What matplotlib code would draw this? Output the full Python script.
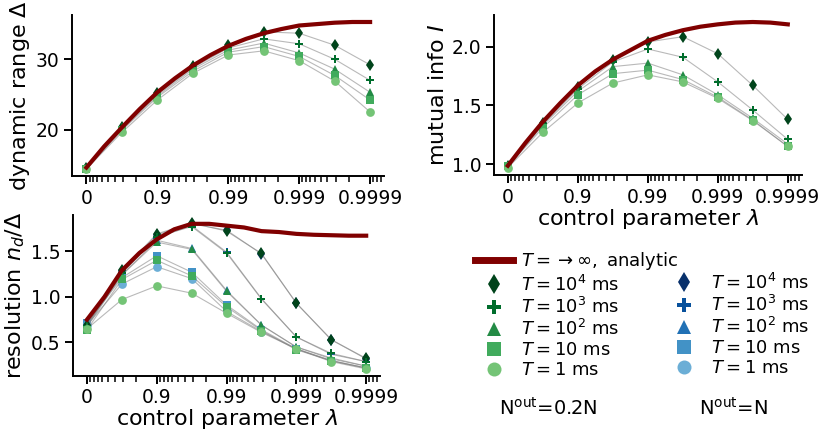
import numpy as np
import matplotlib
matplotlib.use("Agg")
import matplotlib.pyplot as plt
from matplotlib.lines import Line2D
from matplotlib.ticker import LogLocator, NullFormatter

# x positions are decades of 1 - lambda (0 -> lambda=0, 4 -> lambda=0.9999)
decades = [0, 0.5, 1, 1.5, 2, 2.5, 3, 3.5, 4]
decades_fine = [0, 0.25, 0.5, 0.75, 1, 1.25, 1.5, 1.75, 2, 2.25, 2.5, 2.75, 3, 3.25, 3.5, 3.75, 4]

T_labels = [r"$T=10^4$ ms", r"$T=10^3$ ms", r"$T=10^2$ ms", r"$T=10$ ms", r"$T=1$ ms"]
xtick_labels = ["0", "0.9", "0.99", "0.999", "0.9999"]

# dynamic range, N_out = 0.2N
dr_analytic = [14.6, 17.6, 20.3, 22.9, 25.3, 27.3, 29.1, 30.6, 31.9, 32.9, 33.7, 34.3, 34.8, 35.0, 35.2, 35.3, 35.3]
dr_green = [
    [14.6, 20.4, 25.2, 29.0, 32.0, 33.9, 33.7, 32.0, 29.2],
    [14.5, 20.3, 25.0, 28.8, 31.6, 32.9, 32.2, 30.0, 27.0],
    [14.5, 20.1, 24.8, 28.6, 31.3, 32.3, 30.9, 28.6, 25.3],
    [14.4, 19.9, 24.6, 28.3, 31.0, 31.8, 30.4, 27.7, 24.2],
    [14.4, 19.6, 24.2, 28.0, 30.6, 31.2, 29.8, 26.9, 22.5],
]

# mutual information
mi_analytic = [0.986, 1.18, 1.36, 1.52, 1.67, 1.79, 1.89, 1.97, 2.05, 2.10, 2.14, 2.17, 2.19, 2.205, 2.21, 2.205, 2.19]
mi_green = [
    [0.98, 1.35, 1.66, 1.89, 2.04, 2.085, 1.94, 1.67, 1.38],
    [0.98, 1.34, 1.64, 1.87, 1.98, 1.91, 1.70, 1.46, 1.21],
    [0.98, 1.33, 1.62, 1.83, 1.86, 1.76, 1.59, 1.39, 1.17],
    [0.98, 1.31, 1.59, 1.77, 1.80, 1.72, 1.57, 1.375, 1.15],
    [0.97, 1.27, 1.52, 1.69, 1.76, 1.70, 1.56, 1.37, 1.15],
]

# resolution n_d / Delta
res_analytic = [0.75, 1.0, 1.29, 1.48, 1.63, 1.74, 1.80, 1.80, 1.78, 1.76, 1.72, 1.71, 1.69, 1.68, 1.675, 1.67, 1.67]
res_green = [
    [0.69, 1.29, 1.69, 1.81, 1.72, 1.475, 0.93, 0.53, 0.325],
    [0.68, 1.26, 1.66, 1.77, 1.48, 0.975, 0.56, 0.38, 0.29],
    [0.67, 1.24, 1.60, 1.52, 1.06, 0.69, 0.45, 0.33, 0.24],
    [0.64, 1.19, 1.40, 1.23, 0.89, 0.63, 0.42, 0.30, 0.22],
    [0.65, 0.97, 1.12, 1.04, 0.82, 0.61, 0.43, 0.29, 0.21],
]
res_blue = [
    [0.70, 1.28, 1.68, 1.80, 1.73, 1.47, 0.93, 0.53, 0.32],
    [0.70, 1.26, 1.65, 1.78, 1.49, 0.98, 0.56, 0.37, 0.29],
    [0.70, 1.24, 1.62, 1.53, 1.07, 0.69, 0.45, 0.32, 0.24],
    [0.71, 1.21, 1.45, 1.27, 0.91, 0.64, 0.43, 0.30, 0.22],
    [0.69, 1.14, 1.33, 1.20, 0.84, 0.62, 0.43, 0.30, 0.22],
]

markers = ["d", "P", "^", "s", "o"]
greens = ["#00441b", "#006d2c", "#238b45", "#41ab5d", "#74c476"]
blues = ["#08306b", "#08519c", "#2171b5", "#4292c6", "#6baed6"]
analytic_color = "#800000"


def one_minus_lam(d):
    return 10.0 ** (-np.asarray(d, dtype=float))


def plot_series(ax, series, colors, z):
    x = one_minus_lam(decades)
    for vals, m, c in zip(series, markers, colors):
        ax.plot(x, vals, "-", color="gray", lw=0.8, alpha=0.55, zorder=z)
        ax.plot(x, vals, m, color=c, ms=6.3, mew=0, zorder=z + 1)


def style_axis(ax, ylabel, xlabel=None):
    ax.set_xscale("log")
    ax.set_xlim(10 ** 0.2, 10 ** -4.2)
    ax.set_xticks(one_minus_lam([0, 1, 2, 3, 4]))
    ax.set_xticklabels(xtick_labels)
    ax.xaxis.set_minor_locator(LogLocator(base=10, subs=np.arange(2, 10), numticks=20))
    ax.xaxis.set_minor_formatter(NullFormatter())
    ax.spines["top"].set_visible(False)
    ax.spines["right"].set_visible(False)
    for s in ("left", "bottom"):
        ax.spines[s].set_linewidth(1.4)
    ax.tick_params(axis="both", which="major", labelsize=13.5, length=6, width=1.4, pad=3)
    ax.tick_params(axis="x", which="minor", length=4, width=1.1)
    ax.set_ylabel(ylabel, fontsize=16, labelpad=3)
    if xlabel:
        ax.set_xlabel(xlabel, fontsize=16, labelpad=0)


fig = plt.figure(figsize=(8.3, 4.4), dpi=100)

ax_dr = fig.add_axes([0.087, 0.600, 0.376, 0.366])
ax_mi = fig.add_axes([0.595, 0.602, 0.371, 0.364])
ax_res = fig.add_axes([0.088, 0.146, 0.370, 0.365])

# dynamic range
plot_series(ax_dr, dr_green, greens, 2)
ax_dr.plot(one_minus_lam(decades_fine), dr_analytic, color=analytic_color, lw=3, zorder=5)
ax_dr.set_ylim(13.4, 36.3)
ax_dr.set_yticks([20, 30])
style_axis(ax_dr, r"dynamic range $\Delta$")

# mutual info
plot_series(ax_mi, mi_green, greens, 2)
ax_mi.plot(one_minus_lam(decades_fine), mi_analytic, color=analytic_color, lw=3, zorder=5)
ax_mi.set_ylim(0.906, 2.27)
ax_mi.set_yticks([1.0, 1.5, 2.0])
style_axis(ax_mi, r"mutual info $I$", r"control parameter $\lambda$")

# resolution, blue under green
plot_series(ax_res, res_blue, blues, 1)
plot_series(ax_res, res_green, greens, 3)
ax_res.plot(one_minus_lam(decades_fine), res_analytic, color=analytic_color, lw=3, zorder=5)
ax_res.set_ylim(0.135, 1.895)
ax_res.set_yticks([0.5, 1.0, 1.5])
style_axis(ax_res, r"resolution $n_d/\Delta$", r"control parameter $\lambda$")

# legend: green column (with analytic) and blue column
handles = [Line2D([], [], color=analytic_color, lw=5)]
labels = [r"$T=\rightarrow\infty,$ analytic"]
for m, c, lab in zip(markers, greens, T_labels):
    handles.append(Line2D([], [], ls="none", marker=m, color=c, ms=6.3, mew=0))
    labels.append(lab)
handles.append(Line2D([], [], ls="none"))
labels.append(" ")
for m, c, lab in zip(markers, blues, T_labels):
    handles.append(Line2D([], [], ls="none", marker=m, color=c, ms=6.3, mew=0))
    labels.append(lab)

fig.legend(handles, labels, ncol=2, loc="upper left", bbox_to_anchor=(0.553, 0.468),
           frameon=False, fontsize=13, markerscale=1.6, handlelength=2.1,
           handletextpad=0.45, labelspacing=0.12, columnspacing=-0.75, borderpad=0.4)

fig.text(548 / 830, 1 - 408 / 440, r"N$^{\rm out}$=0.2N", fontsize=14, ha="center", va="center")
fig.text(733 / 830, 1 - 408 / 440, r"N$^{\rm out}$=N", fontsize=14, ha="center", va="center")

fig.savefig("out.png", dpi=100)
